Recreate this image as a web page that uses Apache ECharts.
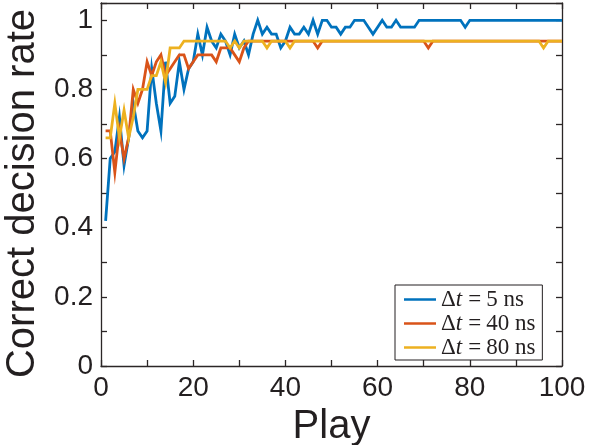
<!DOCTYPE html>
<html>
<head>
<meta charset="utf-8">
<script src="https://cdn.jsdelivr.net/npm/echarts@6/dist/echarts.min.js"></script>
<style>
html,body{margin:0;padding:0;background:#fff;}
#chart{width:597px;height:445px;}
</style>
</head>
<body>
<div id="chart"></div>
<script>
// Play index 1..100
const plays = [1,2,3,4,5,6,7,8,9,10,11,12,13,14,15,16,17,18,19,20,21,22,23,24,25,26,27,28,29,30,31,32,33,34,35,36,37,38,39,40,41,42,43,44,45,46,47,48,49,50,51,52,53,54,55,56,57,58,59,60,61,62,63,64,65,66,67,68,69,70,71,72,73,74,75,76,77,78,79,80,81,82,83,84,85,86,87,88,89,90,91,92,93,94,95,96,97,98,99,100];

const seriesNames = ['Δt = 5 ns', 'Δt = 40 ns', 'Δt = 80 ns'];

const rate5ns = [
  0.42,0.60,0.62,0.72,0.58,0.66,0.76,0.68,0.66,0.68,
  0.86,0.76,0.68,0.88,0.76,0.78,0.88,0.80,0.86,0.88,
  0.96,0.90,0.98,0.94,0.92,0.96,0.94,0.90,0.96,0.92,
  0.94,0.90,0.96,1.00,0.96,0.98,0.96,0.96,0.92,0.94,
  0.98,0.96,0.96,0.98,0.96,1.00,0.96,1.00,1.00,0.98,
  0.98,0.96,0.98,0.98,1.00,1.00,1.00,0.98,0.96,0.98,
  1.00,0.98,0.98,1.00,0.98,0.98,0.98,0.98,1.00,1.00,
  1.00,1.00,1.00,1.00,1.00,1.00,1.00,1.00,0.98,1.00,
  1.00,1.00,1.00,1.00,1.00,1.00,1.00,1.00,1.00,1.00,
  1.00,1.00,1.00,1.00,1.00,1.00,1.00,1.00,1.00,1.00
];

const rate40ns = [
  0.68,0.68,0.56,0.68,0.60,0.66,0.80,0.76,0.80,0.88,
  0.84,0.88,0.90,0.84,0.86,0.88,0.90,0.90,0.86,0.88,
  0.90,0.90,0.90,0.90,0.88,0.92,0.92,0.92,0.90,0.88,
  0.92,0.94,0.94,0.94,0.94,0.94,0.94,0.94,0.94,0.94,
  0.94,0.94,0.94,0.94,0.94,0.94,0.92,0.94,0.94,0.94,
  0.94,0.94,0.94,0.94,0.94,0.94,0.94,0.94,0.94,0.94,
  0.94,0.94,0.94,0.94,0.94,0.94,0.94,0.94,0.94,0.94,
  0.92,0.94,0.94,0.94,0.94,0.94,0.94,0.94,0.94,0.94,
  0.94,0.94,0.94,0.94,0.94,0.94,0.94,0.94,0.94,0.94,
  0.94,0.94,0.94,0.94,0.94,0.94,0.94,0.94,0.94,0.94
];

const rate80ns = [
  0.66,0.66,0.76,0.66,0.74,0.66,0.72,0.80,0.80,0.80,
  0.84,0.84,0.88,0.82,0.92,0.92,0.92,0.94,0.94,0.94,
  0.94,0.94,0.94,0.94,0.94,0.94,0.94,0.92,0.94,0.92,
  0.94,0.94,0.94,0.94,0.94,0.92,0.94,0.94,0.94,0.94,
  0.92,0.94,0.94,0.94,0.94,0.94,0.94,0.94,0.94,0.94,
  0.94,0.94,0.94,0.94,0.94,0.94,0.94,0.94,0.94,0.94,
  0.94,0.94,0.94,0.94,0.94,0.94,0.94,0.94,0.94,0.94,
  0.94,0.94,0.94,0.94,0.94,0.94,0.94,0.94,0.94,0.94,
  0.94,0.94,0.94,0.94,0.94,0.94,0.94,0.94,0.94,0.94,
  0.94,0.94,0.94,0.94,0.94,0.92,0.94,0.94,0.94,0.94
];

const xTickLabels = [0, 20, 40, 60, 80, 100];
const yTickLabels = [0, 0.2, 0.4, 0.6, 0.8, 1];

const colors = ['#0072BD', '#D95319', '#EDB120'];
const allRates = [rate5ns, rate40ns, rate80ns];

const axisColor = '#2b2626';
const labelFont = 'Liberation Sans, Arial, sans-serif';

function near(v, list) { return list.some(t => Math.abs(t - v) < 1e-6); }

const chart = echarts.init(document.getElementById('chart'), null, {renderer: 'canvas'});

const option = {
  animation: false,
  backgroundColor: '#ffffff',
  grid: {left: 101, right: 35, top: 3, bottom: 79, containLabel: false, outerBoundsMode: 'none'},
  legend: {
    orient: 'vertical',
    left: 395, top: 285,
    padding: [3, 7, 1, 9],
    itemGap: 1,
    itemWidth: 32, itemHeight: 2.5,
    icon: 'rect',
    borderColor: '#231f20', borderWidth: 1,
    backgroundColor: '#ffffff',
    data: seriesNames,
    formatter: function (name) {
      const rest = name.split('= ')[1];
      return '{d|Δ}{i|t}{e|=}{n|' + rest + '}';
    },
    textStyle: {
      fontFamily: 'Liberation Serif, serif', fontSize: 23, color: '#231f20', lineHeight: 22,
      rich: {
        d: {fontFamily: 'Liberation Serif, serif', fontSize: 23, color: '#231f20', lineHeight: 22},
        i: {fontFamily: 'Liberation Serif, serif', fontStyle: 'italic', fontSize: 23, color: '#231f20', lineHeight: 22},
        e: {fontFamily: 'Liberation Serif, serif', fontSize: 23, color: '#231f20', lineHeight: 22, padding: [0, 5, 0, 6]},
        n: {fontFamily: 'Liberation Serif, serif', fontSize: 23, color: '#231f20', lineHeight: 22}
      }
    }
  },
  xAxis: [{
    type: 'value', min: 0, max: 100, interval: 10,
    name: 'Play', nameLocation: 'middle', nameGap: 32,
    nameTextStyle: {fontFamily: labelFont, fontSize: 40, color: '#231f20'},
    axisLine: {show: true, onZero: false, lineStyle: {color: axisColor, width: 1.3}},
    axisTick: {show: true, inside: true, length: 6, lineStyle: {color: axisColor, width: 1.3}},
    axisLabel: {
      margin: 8, fontFamily: labelFont, fontSize: 28, color: '#231f20',
      formatter: v => near(v, xTickLabels) ? String(Math.round(v)) : ''
    },
    splitLine: {show: false}
  }, {
    type: 'value', min: 0, max: 100, interval: 10, position: 'top',
    axisLine: {show: true, onZero: false, lineStyle: {color: axisColor, width: 1.3}},
    axisTick: {show: true, inside: true, length: 6, lineStyle: {color: axisColor, width: 1.3}},
    axisLabel: {show: false},
    splitLine: {show: false}
  }],
  yAxis: [{
    type: 'value', min: 0, max: 1.05, interval: 0.1,
    name: 'Correct decision rate', nameLocation: 'middle', nameGap: 53,
    nameTextStyle: {fontFamily: labelFont, fontSize: 40, color: '#231f20', padding: [0, 18, 0, 0]},
    axisLine: {show: true, onZero: false, lineStyle: {color: axisColor, width: 1.3}},
    axisTick: {show: true, inside: true, length: 6, lineStyle: {color: axisColor, width: 1.3}},
    axisLabel: {
      margin: 8, fontFamily: labelFont, fontSize: 28, color: '#231f20',
      formatter: v => {
        if (!near(v, yTickLabels)) return '';
        if (Math.abs(v) < 1e-6) return '0';
        if (Math.abs(v - 1) < 1e-6) return '1';
        return v.toFixed(1);
      }
    },
    splitLine: {show: false}
  }, {
    type: 'value', min: 0, max: 1.05, interval: 0.1, position: 'right',
    axisLine: {show: true, onZero: false, lineStyle: {color: axisColor, width: 1.3}},
    axisTick: {show: true, inside: true, length: 6, lineStyle: {color: axisColor, width: 1.3}},
    axisLabel: {show: false},
    splitLine: {show: false}
  }],
  series: seriesNames.map((name, k) => ({
    name: name,
    type: 'line',
    xAxisIndex: 0, yAxisIndex: 0,
    symbol: 'none',
    showSymbol: false,
    lineStyle: {color: colors[k], width: 2.8, join: 'miter'},
    itemStyle: {color: colors[k]},
    data: plays.map((p, i) => [p, allRates[k][i]])
  }))
};

chart.setOption(option);
</script>
</body>
</html>
